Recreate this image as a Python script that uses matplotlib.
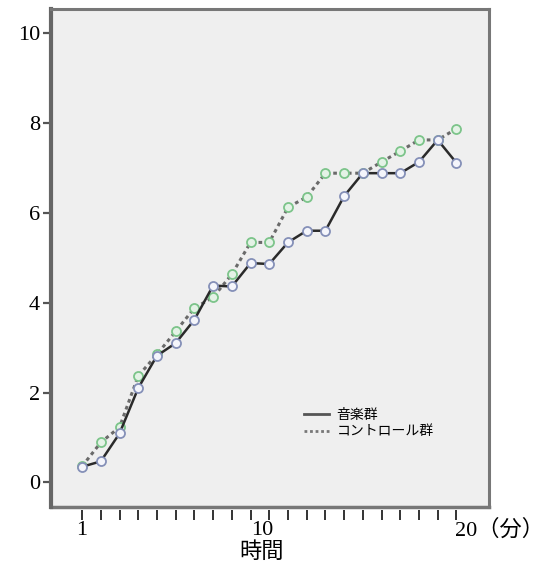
import numpy as np
import matplotlib
matplotlib.use("Agg")
import matplotlib.pyplot as plt
from matplotlib.lines import Line2D

plt.rcParams['font.family'] = ['Liberation Serif', 'Noto Sans CJK JP']

# time points (21 ticks on the axis)
time = [1, 2, 3, 4, 5, 6, 7, 8, 9, 10, 11, 12, 13, 14, 15, 16, 17, 18, 19, 20, 21]
music = [0.35, 0.47, 1.09, 2.10, 2.82, 3.10, 3.62, 4.38, 4.36, 4.88, 4.86, 5.34,
         5.60, 5.60, 6.37, 6.88, 6.88, 6.88, 7.13, 7.62, 7.11]
control = [0.36, 0.89, 1.23, 2.37, 2.85, 3.36, 3.88, 4.12, 4.63, 5.34, 5.34, 6.12,
           6.35, 6.88, 6.88, 6.88, 7.13, 7.37, 7.62, 7.62, 7.87]
labels = ['音楽群', 'コントロール群']

fig = plt.figure(figsize=(5.46, 5.68), dpi=100)
ax = fig.add_axes([0.0934, 0.107, 0.8022, 0.877])
ax.set_facecolor('#efefef')

ax.plot(time, control, linestyle=(0, (1.2, 1.2)), color='#6a6a6a', lw=2.2,
        marker='o', ms=6.5, mfc='#e4f2e6', mec='#7cc48a', mew=1.3, label=labels[1], zorder=3)
ax.plot(time, music, linestyle='-', color='#2a2a2a', lw=1.8,
        marker='o', ms=6.5, mfc='#f4f5fb', mec='#8590b8', mew=1.3, label=labels[0], zorder=4)

ax.set_xlim(-0.66, 22.74)
ax.set_ylim(-0.55, 10.53)

for s in ['top', 'right', 'left']:
    ax.spines[s].set_color('#777777')
    ax.spines[s].set_linewidth(2.2)
ax.spines['left'].set_color('#666666')
ax.spines['left'].set_linewidth(3)
ax.spines['bottom'].set_visible(False)
ax.spines['bottom'].set_position(('outward', 2))
ax.add_line(Line2D([0, 1], [0, 0], transform=ax.transAxes, color='#777777', lw=2.5,
                   clip_on=False))

ax.set_yticks([0, 2, 4, 6, 8, 10])
ax.set_yticklabels(['0', '2', '4', '6', '8', '10'], fontsize=16)
ax.tick_params(axis='y', length=6, width=1.6, color='#555555', pad=2)

ax.set_xticks(time)
ax.set_xticklabels([])
ax.tick_params(axis='x', length=7, width=1.4, color='#333333')

ax.text(1, -1.07, '1', ha='center', va='center', fontsize=16, clip_on=False)
ax.text(10.6, -1.07, '10', ha='center', va='center', fontsize=16, clip_on=False)
ax.text(20.9, -1.07, '20（分）', ha='left', va='center', fontsize=16, clip_on=False)
ax.text(10.6, -1.55, '時間', ha='center', va='center', fontsize=16, clip_on=False)

leg_handles = [Line2D([], [], color='#555555', lw=2),
               Line2D([], [], color='#777777', lw=2, linestyle=(0, (1, 1)))]
ax.legend(leg_handles, labels, loc='upper left', bbox_to_anchor=(0.55, 0.225),
          frameon=False, handlelength=1.8, handletextpad=0.5, labelspacing=0.2,
          prop={'family': ['Noto Sans CJK JP'], 'size': 10})

plt.savefig('out.png', dpi=100)
